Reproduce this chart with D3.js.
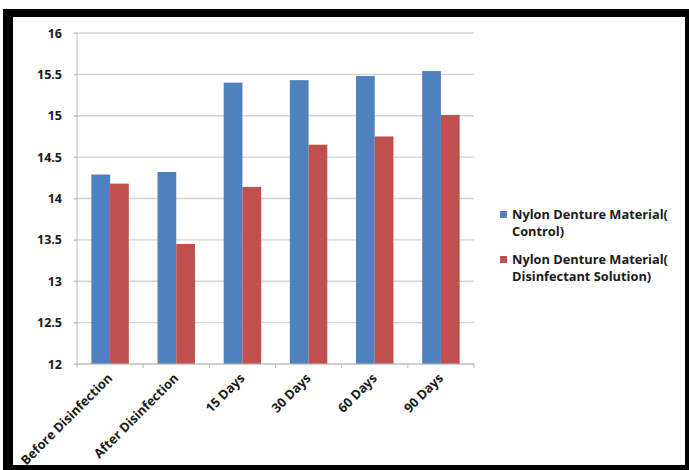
<!DOCTYPE html>
<html><head><meta charset="utf-8">
<script src="https://cdn.jsdelivr.net/npm/d3@7"></script>
<style>
html,body{margin:0;padding:0;background:#fff;}
text{font-family:"Open Sans","DejaVu Sans",sans-serif;font-weight:bold;fill:#1a1a1a;}
</style></head>
<body><svg id="c" width="689" height="470"></svg>
<script>
const categories = ["Before Disinfection","After Disinfection","15 Days","30 Days","60 Days","90 Days"];
const seriesNames = ["Nylon Denture Material( Control)","Nylon Denture Material( Disinfectant Solution)"];
const legendLines = [["Nylon Denture Material(","Control)"],["Nylon Denture Material(","Disinfectant Solution)"]];
const controlValues = [14.29, 14.32, 15.40, 15.43, 15.48, 15.54];
const disinfectantValues = [14.18, 13.45, 14.14, 14.65, 14.75, 15.01];
const yTicks = [12, 12.5, 13, 13.5, 14, 14.5, 15, 15.5, 16];
const colors = ["#4F81BD", "#C0504D"];

(function(){
const svg = d3.select("#c");
// frame
svg.append("rect").attr("x",3).attr("y",9).attr("width",686).attr("height",461).attr("fill","#000");
svg.append("rect").attr("x",13).attr("y",17).attr("width",672).attr("height",448).attr("fill","#fff");

const pL = 77, pR = 474, pT = 33, pB = 364;
const x = d3.scaleBand().domain(categories).range([pL, pR]).paddingInner(0).paddingOuter(0);
const y = d3.scaleLinear().domain([12, 16]).range([pB, pT]);
const groupW = x.bandwidth() * 0.566;
const x1 = d3.scaleBand().domain([0,1]).range([0, groupW]);

// gridlines
svg.append("g").selectAll("line").data(yTicks).join("line")
  .attr("x1", pL - 3).attr("x2", pR)
  .attr("y1", d => y(d)).attr("y2", d => y(d))
  .attr("stroke", "#d4d4d4").attr("stroke-width", 1.3);

// bars
const series = [controlValues, disinfectantValues];
series.forEach((vals, si) => {
  svg.append("g").selectAll("rect").data(vals).join("rect")
    .attr("x", (d, i) => x(categories[i]) + (x.bandwidth() - groupW) / 2 + x1(si))
    .attr("width", x1.bandwidth())
    .attr("y", d => y(d))
    .attr("height", d => y(12) - y(d))
    .attr("fill", colors[si]);
});

// y axis
const yAxis = d3.axisLeft(y).tickValues(yTicks).tickSize(3).tickFormat(d3.format("~g"));
const ya = svg.append("g").attr("transform", `translate(${pL},0)`).call(yAxis);
ya.select(".domain").attr("stroke", "#bdbdbd").attr("d", `M0,${pT}V${pB}`);
ya.selectAll(".tick line").attr("stroke", "#bdbdbd");
ya.selectAll(".tick text").attr("x", -15).attr("font-size", "12.5px").attr("fill","#1a1a1a")
  .style("font-family","'Open Sans',sans-serif").style("font-weight","bold");

// x axis
const xa = svg.append("g").attr("transform", `translate(0,${pB})`);
xa.append("line").attr("x1", pL).attr("x2", pR).attr("y1", 0).attr("y2", 0).attr("stroke", "#bdbdbd");
const edges = categories.map(c => x(c)).concat([pR]);
xa.selectAll("line.t").data(edges).join("line").attr("class","t")
  .attr("x1", d => d).attr("x2", d => d).attr("y1", 0).attr("y2", 4).attr("stroke", "#bdbdbd");
xa.selectAll("text").data(categories).join("text")
  .attr("transform", d => `translate(${x(d) + x.bandwidth()/2 + 3},${15}) rotate(-45)`)
  .attr("text-anchor", "end")
  .attr("font-size", "12.8px")
  .text(d => d);

// legend
const lg = svg.append("g");
legendLines.forEach((lines, i) => {
  const gy = 211 + i * 45;
  lg.append("rect").attr("x", 500).attr("y", gy).attr("width", 7).attr("height", 7).attr("fill", colors[i]);
  lines.forEach((t, j) => {
    lg.append("text").attr("x", 512).attr("y", gy + 8 + j * 17).attr("font-size", "12.8px").text(t);
  });
});
})();
</script></body></html>
